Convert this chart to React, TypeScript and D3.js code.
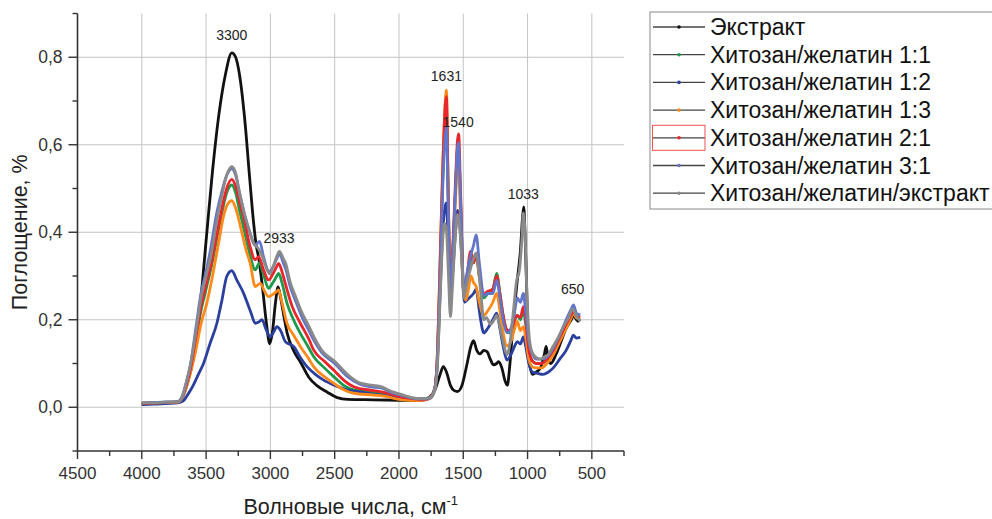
import React from "react";
import * as d3 from "d3";

type P = [number, number];

const seriesNames = [
  "Экстракт",
  "Хитозан/желатин 1:1",
  "Хитозан/желатин 1:2",
  "Хитозан/желатин 1:3",
  "Хитозан/желатин 2:1",
  "Хитозан/желатин 3:1",
  "Хитозан/желатин/экстракт",
];
const seriesColors = ["#111111", "#1c9a4a", "#2b3f9e", "#ff8a1a", "#e8262b", "#6375c8", "#8a8a8a"];

const extract: P[] = [[4000,0.008],[3900,0.009],[3800,0.01],[3720,0.012],[3680,0.025],[3640,0.06],[3600,0.11],[3550,0.22],[3500,0.38],[3450,0.54],[3400,0.67],[3350,0.76],[3300,0.81],[3270,0.8],[3240,0.76],[3200,0.66],[3160,0.52],[3130,0.42],[3110,0.37],[3090,0.34],[3060,0.27],[3030,0.19],[3005,0.145],[2985,0.17],[2960,0.24],[2940,0.275],[2920,0.25],[2890,0.2],[2870,0.17],[2820,0.13],[2760,0.1],[2700,0.068],[2640,0.05],[2560,0.035],[2480,0.022],[2400,0.018],[2200,0.017],[2000,0.016],[1850,0.015],[1780,0.02],[1720,0.04],[1680,0.075],[1655,0.093],[1630,0.08],[1600,0.05],[1570,0.038],[1545,0.036],[1510,0.05],[1470,0.1],[1440,0.14],[1420,0.152],[1395,0.13],[1370,0.122],[1340,0.13],[1315,0.127],[1290,0.11],[1265,0.097],[1240,0.1],[1225,0.104],[1200,0.09],[1175,0.06],[1157,0.05],[1140,0.09],[1110,0.2],[1080,0.29],[1055,0.36],[1040,0.43],[1030,0.458],[1020,0.4],[1005,0.25],[990,0.11],[960,0.075],[935,0.08],[900,0.09],[870,0.12],[855,0.139],[840,0.11],[820,0.1],[780,0.12],[740,0.15],[700,0.18],[660,0.2],[640,0.21],[620,0.2],[600,0.195]];

const cg11: P[] = [[4000,0.008],[3900,0.009],[3800,0.01],[3720,0.011],[3690,0.02],[3660,0.045],[3620,0.09],[3580,0.15],[3540,0.22],[3500,0.27],[3460,0.32],[3420,0.38],[3380,0.44],[3340,0.49],[3300,0.508],[3270,0.49],[3240,0.45],[3200,0.4],[3160,0.35],[3118,0.314],[3085,0.33],[3050,0.3],[3014,0.272],[2980,0.285],[2950,0.3],[2936,0.306],[2910,0.285],[2871,0.238],[2820,0.2],[2767,0.169],[2700,0.135],[2664,0.116],[2580,0.09],[2508,0.07],[2430,0.05],[2352,0.04],[2200,0.035],[2100,0.03],[1950,0.022],[1830,0.018],[1760,0.022],[1720,0.045],[1700,0.12],[1680,0.32],[1660,0.52],[1640,0.66],[1631,0.68],[1618,0.5],[1600,0.26],[1585,0.33],[1560,0.5],[1545,0.59],[1538,0.595],[1520,0.46],[1495,0.26],[1475,0.28],[1440,0.34],[1420,0.33],[1400,0.35],[1375,0.3],[1340,0.25],[1310,0.26],[1270,0.27],[1240,0.306],[1215,0.26],[1190,0.21],[1160,0.175],[1130,0.17],[1100,0.2],[1080,0.21],[1055,0.2],[1033,0.222],[1015,0.19],[990,0.13],[960,0.105],[930,0.1],[890,0.1],[850,0.11],[800,0.13],[750,0.16],[700,0.19],[660,0.21],[645,0.215],[620,0.205],[590,0.2]];

const cg12: P[] = [[4000,0.006],[3900,0.007],[3800,0.009],[3720,0.01],[3680,0.014],[3640,0.03],[3600,0.05],[3560,0.075],[3520,0.1],[3470,0.145],[3416,0.192],[3380,0.24],[3338,0.3],[3300,0.312],[3260,0.29],[3209,0.261],[3150,0.215],[3118,0.192],[3090,0.195],[3066,0.2],[3030,0.175],[3001,0.161],[2975,0.172],[2949,0.184],[2920,0.175],[2884,0.15],[2819,0.139],[2770,0.115],[2715,0.093],[2650,0.075],[2586,0.062],[2500,0.05],[2404,0.04],[2300,0.035],[2200,0.03],[2100,0.026],[2000,0.022],[1900,0.019],[1800,0.017],[1750,0.022],[1720,0.045],[1700,0.11],[1680,0.26],[1660,0.4],[1640,0.46],[1631,0.467],[1618,0.38],[1600,0.27],[1585,0.3],[1560,0.4],[1545,0.45],[1530,0.43],[1510,0.33],[1490,0.24],[1470,0.245],[1443,0.253],[1420,0.26],[1400,0.27],[1375,0.22],[1340,0.17],[1310,0.18],[1270,0.2],[1240,0.215],[1215,0.18],[1190,0.14],[1160,0.108],[1130,0.12],[1100,0.14],[1080,0.15],[1055,0.145],[1033,0.161],[1015,0.14],[990,0.1],[960,0.08],[930,0.078],[880,0.075],[840,0.08],[800,0.09],[750,0.11],[700,0.13],[660,0.155],[645,0.165],[620,0.158],[590,0.16]];

const cg13: P[] = [[4000,0.01],[3900,0.01],[3800,0.011],[3720,0.012],[3690,0.02],[3660,0.04],[3620,0.08],[3580,0.13],[3540,0.19],[3494,0.238],[3450,0.3],[3400,0.38],[3365,0.436],[3330,0.465],[3300,0.472],[3270,0.455],[3230,0.41],[3190,0.36],[3157,0.329],[3118,0.276],[3079,0.283],[3045,0.265],[3014,0.253],[2980,0.258],[2950,0.265],[2936,0.268],[2910,0.24],[2871,0.192],[2820,0.165],[2767,0.139],[2700,0.11],[2664,0.093],[2580,0.07],[2508,0.055],[2430,0.04],[2352,0.032],[2200,0.028],[2100,0.025],[2000,0.018],[1850,0.015],[1760,0.02],[1720,0.045],[1700,0.13],[1680,0.34],[1660,0.55],[1640,0.7],[1631,0.725],[1618,0.52],[1600,0.26],[1585,0.32],[1560,0.48],[1545,0.55],[1538,0.56],[1520,0.42],[1500,0.27],[1480,0.245],[1460,0.27],[1440,0.3],[1420,0.285],[1400,0.276],[1375,0.24],[1340,0.21],[1310,0.22],[1270,0.24],[1240,0.26],[1215,0.22],[1190,0.17],[1160,0.14],[1130,0.15],[1100,0.18],[1080,0.196],[1055,0.175],[1033,0.184],[1015,0.16],[990,0.11],[960,0.092],[930,0.09],[890,0.09],[850,0.1],[800,0.12],[750,0.15],[700,0.18],[660,0.205],[645,0.215],[620,0.205],[590,0.2]];

const cg21: P[] = [[4000,0.009],[3900,0.01],[3800,0.011],[3720,0.012],[3690,0.02],[3660,0.045],[3620,0.09],[3580,0.16],[3540,0.23],[3500,0.28],[3460,0.33],[3420,0.39],[3380,0.45],[3340,0.5],[3300,0.521],[3270,0.505],[3240,0.47],[3209,0.436],[3160,0.37],[3118,0.337],[3092,0.344],[3053,0.314],[3014,0.291],[2980,0.305],[2950,0.322],[2936,0.329],[2910,0.31],[2884,0.283],[2830,0.23],[2767,0.192],[2700,0.155],[2664,0.131],[2580,0.105],[2508,0.085],[2430,0.062],[2352,0.047],[2200,0.038],[2100,0.033],[2000,0.025],[1900,0.02],[1800,0.018],[1760,0.022],[1720,0.045],[1700,0.13],[1680,0.33],[1660,0.54],[1640,0.69],[1631,0.71],[1618,0.5],[1600,0.26],[1585,0.34],[1560,0.52],[1545,0.61],[1536,0.625],[1520,0.48],[1495,0.26],[1475,0.29],[1443,0.356],[1420,0.33],[1400,0.35],[1375,0.3],[1340,0.26],[1310,0.265],[1270,0.27],[1240,0.3],[1215,0.26],[1190,0.21],[1160,0.177],[1130,0.175],[1100,0.2],[1080,0.21],[1055,0.205],[1033,0.23],[1015,0.2],[990,0.13],[960,0.105],[930,0.1],[890,0.1],[850,0.11],[800,0.13],[750,0.16],[700,0.19],[660,0.212],[645,0.22],[620,0.21],[590,0.206]];

const cg31: P[] = [[4000,0.01],[3900,0.011],[3800,0.012],[3720,0.013],[3690,0.022],[3660,0.05],[3620,0.1],[3580,0.18],[3540,0.26],[3500,0.31],[3460,0.37],[3420,0.44],[3380,0.49],[3340,0.53],[3300,0.545],[3270,0.53],[3240,0.49],[3200,0.44],[3160,0.4],[3120,0.37],[3084,0.379],[3050,0.34],[3010,0.31],[2980,0.32],[2950,0.34],[2928,0.35],[2900,0.33],[2880,0.315],[2850,0.28],[2800,0.24],[2760,0.21],[2700,0.175],[2660,0.152],[2600,0.125],[2500,0.1],[2400,0.07],[2300,0.052],[2200,0.046],[2140,0.044],[2050,0.033],[1990,0.028],[1900,0.021],[1830,0.019],[1760,0.021],[1720,0.045],[1700,0.12],[1680,0.3],[1660,0.5],[1640,0.62],[1631,0.64],[1618,0.47],[1600,0.26],[1585,0.33],[1560,0.5],[1545,0.59],[1538,0.605],[1520,0.46],[1495,0.26],[1475,0.3],[1440,0.35],[1420,0.37],[1400,0.394],[1375,0.33],[1340,0.255],[1310,0.26],[1270,0.26],[1240,0.29],[1215,0.25],[1190,0.2],[1160,0.17],[1130,0.18],[1100,0.22],[1080,0.25],[1055,0.24],[1033,0.26],[1015,0.22],[990,0.15],[960,0.12],[930,0.11],[890,0.11],[850,0.115],[800,0.135],[750,0.165],[700,0.2],[660,0.225],[643,0.234],[620,0.215],[590,0.211]];

const cgExtract: P[] = [[4000,0.01],[3900,0.01],[3800,0.012],[3720,0.012],[3690,0.02],[3660,0.05],[3620,0.1],[3580,0.17],[3540,0.25],[3500,0.3],[3460,0.35],[3420,0.42],[3380,0.48],[3340,0.53],[3300,0.55],[3270,0.535],[3240,0.49],[3200,0.44],[3160,0.4],[3130,0.375],[3100,0.365],[3070,0.35],[3040,0.325],[3005,0.305],[2980,0.32],[2950,0.345],[2930,0.356],[2900,0.34],[2880,0.328],[2850,0.29],[2800,0.25],[2760,0.22],[2700,0.185],[2660,0.16],[2600,0.13],[2500,0.105],[2400,0.075],[2300,0.055],[2200,0.05],[2140,0.047],[2050,0.035],[1990,0.03],[1900,0.022],[1830,0.02],[1760,0.022],[1720,0.04],[1700,0.1],[1680,0.25],[1660,0.38],[1645,0.42],[1631,0.405],[1615,0.3],[1600,0.207],[1585,0.27],[1560,0.4],[1545,0.44],[1530,0.42],[1510,0.33],[1495,0.25],[1475,0.28],[1450,0.31],[1420,0.34],[1400,0.352],[1380,0.31],[1360,0.25],[1340,0.2],[1320,0.205],[1290,0.19],[1260,0.2],[1240,0.21],[1220,0.19],[1190,0.15],[1160,0.12],[1140,0.14],[1110,0.22],[1085,0.29],[1065,0.31],[1045,0.38],[1033,0.444],[1020,0.4],[1005,0.26],[990,0.17],[970,0.13],[940,0.115],[900,0.11],[870,0.115],[840,0.12],[800,0.14],[760,0.16],[720,0.185],[680,0.205],[650,0.225],[630,0.215],[600,0.2],[590,0.196]];

const seriesData: P[][] = [extract, cg11, cg12, cg13, cg21, cg31, cgExtract];
const drawOrder = [0, 1, 2, 3, 4, 5, 6];

const xMajorTicks = [4500, 4000, 3500, 3000, 2500, 2000, 1500, 1000, 500];
const xMinorTicks = [4250, 3750, 3250, 2750, 2250, 1750, 1250, 750, 250];
const yMajorTicks = [0, 0.2, 0.4, 0.6, 0.8];
const yMinorTicks = [-0.1, 0.1, 0.3, 0.5, 0.7, 0.9];

const peakLabels: [number, number, string][] = [
  [3300, 0.84, "3300"],
  [2933, 0.375, "2933"],
  [1631, 0.745, "1631"],
  [1540, 0.64, "1540"],
  [1033, 0.475, "1033"],
  [650, 0.26, "650"],
];

const xAxisTitle = "Волновые числа, см";
const yAxisTitle = "Поглощение, %";

const FONT = "'Liberation Sans', Arial, sans-serif";

export default function App() {
  const W = 992, H = 519;
  const left = 77.5, right = 624, top = 13.5, bottom = 451;
  const x = d3.scaleLinear().domain([4500, 250]).range([left, right]);
  const y = d3.scaleLinear().domain([-0.1, 0.9]).range([bottom, top]);
  const line = d3
    .line<P>()
    .x((d) => x(d[0]))
    .y((d) => y(d[1]))
    .curve(d3.curveMonotoneX);
  const fmt = (v: number) => v.toFixed(1).replace(".", ",");
  const legendX = 650, legendY = 12, rowH = 27.7;

  return (
    <svg width={W} height={H} style={{ position: "absolute", left: 0, top: 0, background: "#fff" }} fontFamily={FONT}>
      <rect x={0} y={0} width={W} height={H} fill="#fff" />
      {xMajorTicks.slice(1).map((t) => (
        <line key={"gx" + t} x1={x(t)} x2={x(t)} y1={top} y2={bottom} stroke="#c4c4c4" strokeWidth={1} />
      ))}
      {yMajorTicks.map((t) => (
        <line key={"gy" + t} x1={left} x2={right} y1={y(t)} y2={y(t)} stroke="#c4c4c4" strokeWidth={1} />
      ))}
      {drawOrder.map((i) => (
        <path key={"s" + i} d={line(seriesData[i]) || ""} fill="none" stroke={seriesColors[i]} strokeWidth={2.8} strokeLinejoin="round" />
      ))}
      <line x1={left} x2={left} y1={top} y2={bottom} stroke="#333" strokeWidth={1.6} />
      <line x1={left} x2={right} y1={bottom} y2={bottom} stroke="#333" strokeWidth={1.6} />
      {yMajorTicks.map((t) => (
        <g key={"yt" + t}>
          <line x1={left - 9} x2={left} y1={y(t)} y2={y(t)} stroke="#333" strokeWidth={1.4} />
          <text x={left - 15} y={y(t) + 6} textAnchor="end" fontSize={17.5} fill="#333">{fmt(t)}</text>
        </g>
      ))}
      {yMinorTicks.map((t) => (
        <line key={"ym" + t} x1={left - 5} x2={left} y1={y(t)} y2={y(t)} stroke="#333" strokeWidth={1.4} />
      ))}
      {xMajorTicks.map((t) => (
        <g key={"xt" + t}>
          <line x1={x(t)} x2={x(t)} y1={bottom} y2={bottom + 8} stroke="#333" strokeWidth={1.4} />
          <text x={x(t)} y={bottom + 28} textAnchor="middle" fontSize={17} fill="#333">{t}</text>
        </g>
      ))}
      {xMinorTicks.map((t) => (
        <line key={"xm" + t} x1={x(t)} x2={x(t)} y1={bottom} y2={bottom + 5} stroke="#333" strokeWidth={1.4} />
      ))}
      <text x={(left + right) / 2} y={514} textAnchor="middle" fontSize={21.5} fill="#222">
        {xAxisTitle}
        <tspan dy={-9} fontSize={13}>-1</tspan>
      </text>
      <text transform={`translate(27,${(top + bottom) / 2}) rotate(-90)`} textAnchor="middle" fontSize={21.5} fill="#222">
        {yAxisTitle}
      </text>
      {peakLabels.map(([w, v, s]) => (
        <text key={"pl" + s} x={x(w)} y={y(v)} textAnchor="middle" fontSize={14} fill="#222">{s}</text>
      ))}
      <rect x={legendX} y={legendY} width={360} height={197} fill="#fff" stroke="#888" strokeWidth={1} />
      {seriesNames.map((n, i) => {
        const cy = legendY + 15 + i * rowH;
        return (
          <g key={"lg" + i}>
            <line x1={653} x2={705} y1={cy} y2={cy} stroke="#444" strokeWidth={1.3} />
            <circle cx={679} cy={cy} r={1.8} fill={seriesColors[i]} />
            {i === 4 && (
              <rect x={652.5} y={cy - 12.5} width={52.5} height={25} fill="none" stroke="#f05050" strokeWidth={1} />
            )}
            <text x={710} y={cy + 8} fontSize={23} fill="#111">{n}</text>
          </g>
        );
      })}
    </svg>
  );
}
